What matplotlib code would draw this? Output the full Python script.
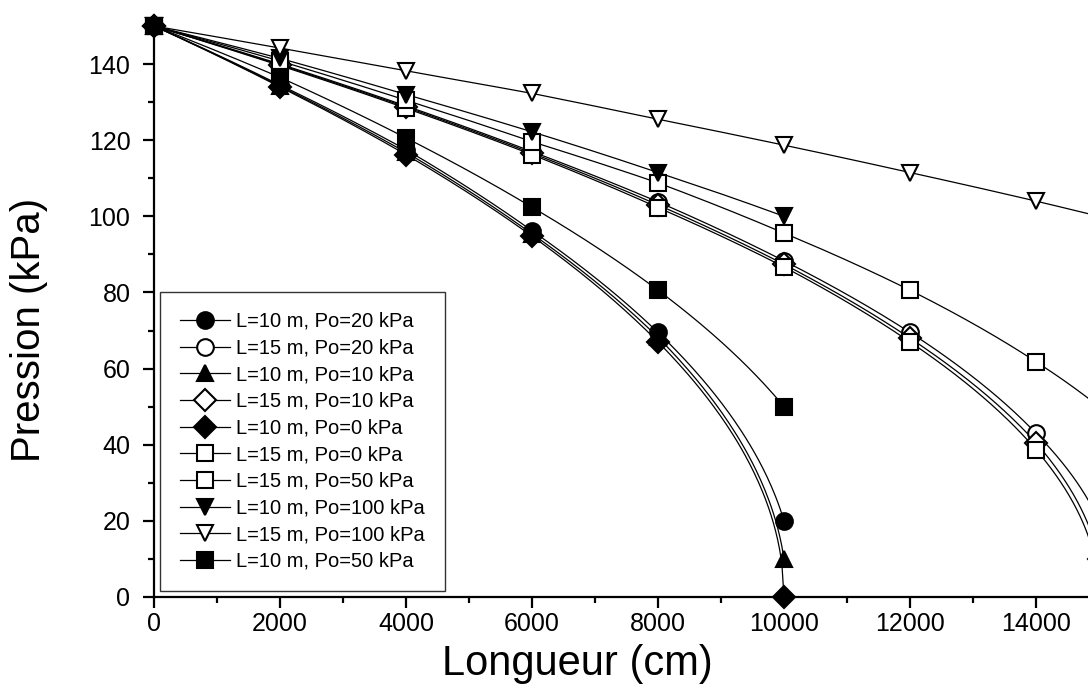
import numpy as np
import matplotlib
matplotlib.use("Agg")
import matplotlib.pyplot as plt
from matplotlib.ticker import MultipleLocator

plt.rcParams['font.family'] = ['Liberation Sans', 'DejaVu Sans']

# ----------------------------------------
# data
# ----------------------------------------
x_10 = [0, 2000, 4000, 6000, 8000, 10000]
x_15 = [0, 2000, 4000, 6000, 8000, 10000, 12000, 14000, 15000]

p_10_20 = [150, 134.5, 117.5, 96.2, 69.5, 20]
p_15_20 = [150, 140, 129, 117, 103.8, 88.3, 69.5, 43, 20]
p_10_10 = [150, 134.2, 116.8, 95.4, 68.2, 10]
p_15_10 = [150, 139.8, 128.7, 116.6, 103, 87.4, 68, 40.5, 10]
p_10_0 = [150, 134, 116.2, 94.8, 67, 0]
p_15_0 = [150, 139.6, 128.4, 116.2, 102.3, 86.7, 67, 38.7, 0]
p_15_50 = [150, 140.8, 130.5, 119.6, 108.8, 95.6, 80.6, 61.8, 50]
p_10_100 = [150, 141.5, 132, 122.2, 111.5, 100]
p_15_100 = [150, 144.2, 138.2, 132.3, 125.5, 118.7, 111.5, 104, 100]
p_10_50 = [150, 136.5, 120.6, 102.4, 80.6, 50]

labels = ["L=10 m, Po=20 kPa", "L=15 m, Po=20 kPa", "L=10 m, Po=10 kPa",
          "L=15 m, Po=10 kPa", "L=10 m, Po=0 kPa", "L=15 m, Po=0 kPa",
          "L=15 m, Po=50 kPa", "L=10 m, Po=100 kPa", "L=15 m, Po=100 kPa",
          "L=10 m, Po=50 kPa"]


def smooth(x, y, n=60):
	# connect the read points segment by segment, linear in p^2
	# (gives the curved drop that the original lines show) - drawing only
	xs, ys = [], []
	for i in range(len(x) - 1):
		t = np.linspace(0, 1, n)
		p1, p2 = y[i] ** 2, y[i + 1] ** 2
		xs.append(x[i] + (x[i + 1] - x[i]) * t)
		ys.append(np.sqrt(np.maximum(p1 + (p2 - p1) * t, 0)))
	return np.concatenate(xs), np.concatenate(ys)


series = [
	(x_10, p_10_20, 'o', 'black'),
	(x_15, p_15_20, 'o', 'white'),
	(x_10, p_10_10, '^', 'black'),
	(x_15, p_15_10, 'D', 'white'),
	(x_10, p_10_0, 'D', 'black'),
	(x_15, p_15_0, 's', 'white'),
	(x_15, p_15_50, 's', 'white'),
	(x_10, p_10_100, 'v', 'black'),
	(x_15, p_15_100, 'v', 'white'),
	(x_10, p_10_50, 's', 'black'),
]
sizes = {'o': 12, 's': 11, 'D': 11.5, '^': 12, 'v': 12}

fig = plt.figure(figsize=(10.88, 6.98), dpi=100)
ax = fig.add_axes([154 / 1088, 101 / 698, 945 / 1088, 571 / 698])

handles = []
for (xx, yy, m, fc), lab in zip(series, labels):
	ms = sizes[m]
	xs, ys = smooth(xx, yy)
	ax.plot(xs, ys, color='black', lw=0.9, clip_on=False, zorder=2)
	ax.plot(xx, yy, ls='none', marker=m, ms=ms, mfc=fc, mec='black', mew=1.5,
			clip_on=False, zorder=3)
	h, = ax.plot([], [], color='black', lw=0.9, marker=m, ms=ms, mfc=fc,
				 mec='black', mew=1.5, label=lab)
	handles.append(h)

ax.set_xlim(0, 15000)
ax.set_ylim(0, 150)
ax.spines['top'].set_visible(False)
ax.spines['right'].set_visible(False)
ax.spines['left'].set_linewidth(1.6)
ax.spines['bottom'].set_linewidth(1.6)
ax.xaxis.set_major_locator(MultipleLocator(2000))
ax.xaxis.set_minor_locator(MultipleLocator(1000))
ax.yaxis.set_major_locator(MultipleLocator(20))
ax.yaxis.set_minor_locator(MultipleLocator(10))
ax.tick_params(which='major', direction='out', length=8, width=1.6, labelsize=18, pad=3)
ax.tick_params(which='minor', direction='out', length=4.5, width=1.6)
ax.tick_params(axis='y', which='major', pad=9)

ax.set_xlabel("Longueur (cm)", fontsize=30)
ax.set_ylabel("Pression (kPa)", fontsize=29)
ax.xaxis.set_label_coords(0.4476, -0.082)
ax.yaxis.set_label_coords(-0.112, 0.4676)

leg = ax.legend(handles=handles, loc='lower left', bbox_to_anchor=(0.006, 0.0105),
				borderaxespad=0, fontsize=14.5, frameon=True, fancybox=False,
				edgecolor='black', handlelength=2.5, handletextpad=0.3,
				borderpad=1.0, labelspacing=0.38)
leg.get_frame().set_linewidth(1.0)

plt.savefig("out.png", dpi=100)
